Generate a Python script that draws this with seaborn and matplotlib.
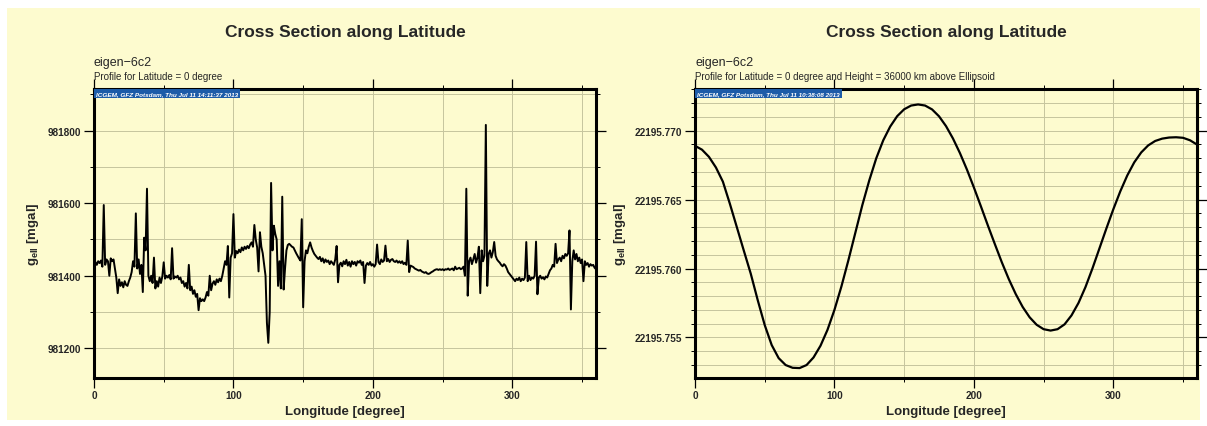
import numpy as np
import pandas as pd
import matplotlib
matplotlib.use("Agg")
import matplotlib.pyplot as plt
from matplotlib.patches import Rectangle
from matplotlib.ticker import MultipleLocator, FormatStrFormatter
import seaborn as sns

# ---------------- data ----------------
lon_left = np.arange(0, 361, 1)
g_left = [
    981432, 981438, 981430, 981440, 981435, 981442, 981425, 981595, 981430, 981445,
    981440, 981400, 981448, 981440, 981445, 981420, 981395, 981352, 981390, 981372,
    981382, 981368, 981385, 981375, 981372, 981385, 981395, 981410, 981440, 981425,
    981572, 981420, 981445, 981405, 981430, 981355, 981505, 981470, 981640, 981400,
    981385, 981400, 981380, 981450, 981365, 981385, 981370, 981395, 981380, 981398,
    981437, 981392, 981400, 981395, 981402, 981390, 981476, 981392, 981398, 981395,
    981400, 981390, 981395, 981380, 981385, 981370, 981380, 981365, 981430, 981360,
    981370, 981350, 981360, 981342, 981350, 981305, 981338, 981330, 981335, 981330,
    981340, 981355, 981345, 981400, 981360, 981378, 981385, 981375, 981390, 981382,
    981392, 981385, 981400, 981420, 981440, 981430, 981482, 981340, 981450, 981462,
    981570, 981450, 981468, 981462, 981472, 981465, 981478, 981470, 981480, 981474,
    981482, 981476, 981486, 981492, 981480, 981540, 981500, 981478, 981412, 981520,
    981480, 981462, 981430, 981400, 981270, 981215, 981300, 981656, 981470, 981538,
    981515, 981500, 981372, 981440, 981365, 981618, 981362, 981420, 981470, 981485,
    981488, 981484, 981480, 981478, 981470, 981462, 981455, 981448, 981442, 981556,
    981313, 981440, 981470, 981462, 981480, 981492, 981478, 981468, 981460, 981455,
    981450, 981446, 981452, 981440, 981448, 981436, 981445, 981438, 981442, 981432,
    981440, 981435, 981430, 981445, 981482, 981382, 981430, 981436, 981426, 981440,
    981432, 981444, 981428, 981438, 981425, 981440, 981432, 981438, 981428, 981440,
    981436, 981442, 981430, 981438, 981380, 981428, 981435, 981430, 981438, 981428,
    981432, 981425, 981432, 981486, 981438, 981432, 981445, 981438, 981442, 981483,
    981440, 981446, 981438, 981444, 981446, 981440, 981438, 981442, 981436, 981440,
    981435, 981440, 981432, 981436, 981430, 981497, 981410, 981428, 981426, 981424,
    981420, 981418, 981416, 981414, 981416, 981412, 981410, 981408, 981410, 981406,
    981405, 981407, 981410, 981412, 981415, 981417, 981418, 981416, 981418, 981416,
    981418, 981415, 981418, 981417, 981420, 981416, 981418, 981420, 981415, 981425,
    981418, 981420, 981422, 981418, 981420, 981425, 981400, 981640, 981345, 981440,
    981450, 981432, 981445, 981460, 981436, 981450, 981480, 981352, 981470, 981440,
    981455, 981816, 981372, 981460, 981470, 981450, 981465, 981493, 981455, 981445,
    981440, 981436, 981430, 981426, 981432, 981428, 981420, 981410, 981405, 981400,
    981395, 981390, 981385, 981392, 981388, 981395, 981385, 981392, 981388, 981395,
    981493, 981385, 981400, 981388, 981395, 981392, 981400, 981494, 981349, 981395,
    981400, 981392, 981396, 981390, 981398, 981395, 981405, 981415, 981420, 981430,
    981425, 981488, 981435, 981445, 981450, 981440, 981455, 981448, 981460, 981455,
    981462, 981525, 981307, 981440, 981470, 981445, 981460, 981440, 981450, 981435,
    981445, 981385, 981440, 981430, 981435, 981425, 981432, 981428, 981430, 981422,
    981418,
]

lon_right = np.arange(0, 361, 5)
g_right = [
    22195.76890, 22195.76862, 22195.76810, 22195.76733, 22195.76630, 22195.76470,
    22195.76300, 22195.76130, 22195.75962, 22195.75770, 22195.75590, 22195.75445,
    22195.75350, 22195.75300, 22195.75280, 22195.75278, 22195.75300, 22195.75355,
    22195.75440, 22195.75555, 22195.75700, 22195.75870, 22195.76060, 22195.76260,
    22195.76460, 22195.76640, 22195.76800, 22195.76930, 22195.77030, 22195.77105,
    22195.77155, 22195.77182, 22195.77190, 22195.77182, 22195.77154, 22195.77104,
    22195.77033, 22195.76943, 22195.76837, 22195.76718, 22195.76588, 22195.76452,
    22195.76313, 22195.76178, 22195.76046, 22195.75924, 22195.75815, 22195.75721,
    22195.75646, 22195.75592, 22195.75560, 22195.75550, 22195.75560, 22195.75595,
    22195.75660, 22195.75750, 22195.75865, 22195.76000, 22195.76145, 22195.76290,
    22195.76430, 22195.76560, 22195.76675, 22195.76770, 22195.76842, 22195.76893,
    22195.76925, 22195.76942, 22195.76950, 22195.76952, 22195.76948, 22195.76930,
    22195.76899,
]

titles = ["Cross Section along Latitude", "Cross Section along Latitude"]
models = ["eigen\u22126c2", "eigen\u22126c2"]
subtitles = ["Profile for Latitude = 0 degree",
             "Profile for Latitude = 0 degree and Height = 36000 km above Ellipsoid"]
stamps = ["ICGEM, GFZ Potsdam, Thu Jul 11 14:11:37 2013",
          "ICGEM, GFZ Potsdam, Thu Jul 11 10:38:08 2013"]
xlabel = "Longitude [degree]"
ylabel = r"g$_{\mathbf{ell}}$ [mgal]"

# ---------------- style ----------------
sns.set_theme(style="white")
plt.rcParams["font.family"] = ["Liberation Sans", "DejaVu Sans"]
plt.rcParams["mathtext.fontset"] = "custom"
plt.rcParams["mathtext.rm"] = "Liberation Sans:bold"
plt.rcParams["mathtext.bf"] = "Liberation Sans:bold"

YELLOW = "#fdfbcf"
GRID = "#c6c59e"
BLUE = "#1d5ca8"

W, H = 1207, 427
fig = plt.figure(figsize=(W / 100, H / 100), dpi=100)
fig.patch.set_facecolor("white")
fig.add_artist(Rectangle((7 / W, 1 - 421 / H), (1200 - 7) / W, (421 - 9) / H,
                         transform=fig.transFigure, facecolor=YELLOW,
                         edgecolor="none", zorder=-10))

def px_axes(x0, y0, x1, y1):
    return fig.add_axes([x0 / W, 1 - y1 / H, (x1 - x0) / W, (y1 - y0) / H])

axL = px_axes(94, 90, 596, 379)
axR = px_axes(695, 90, 1197, 379)

df_left = pd.DataFrame({"lon": lon_left, "g": g_left})
df_right = pd.DataFrame({"lon": lon_right, "g": g_right})

sns.lineplot(data=df_left, x="lon", y="g", ax=axL, color="black",
             linewidth=1.4, estimator=None, sort=False, zorder=3)
sns.lineplot(data=df_right, x="lon", y="g", ax=axR, color="black",
             linewidth=1.6, estimator=None, sort=False, zorder=3)

axL.set_ylim(981118, 981915)
axR.set_ylim(22195.75206, 22195.77302)

for ax, ymaj, ymin, fmt in [(axL, 200, 100, "%d"), (axR, 0.005, 0.001, "%.3f")]:
    ax.set_facecolor(YELLOW)
    ax.set_xlim(0, 360)
    ax.xaxis.set_major_locator(MultipleLocator(100))
    ax.xaxis.set_minor_locator(MultipleLocator(50))
    ax.yaxis.set_major_locator(MultipleLocator(ymaj))
    ax.yaxis.set_minor_locator(MultipleLocator(ymin))
    ax.yaxis.set_major_formatter(FormatStrFormatter(fmt))
    ax.grid(which="both", color=GRID, linewidth=0.7, zorder=0)
    ax.set_axisbelow(True)
    for s in ax.spines.values():
        s.set_color("black")
        s.set_linewidth(2.2)
    ax.tick_params(which="major", direction="out", length=7, width=0.9,
                   color="black", top=True, right=True, bottom=True, left=True,
                   labelsize=7.2, pad=2)
    ax.tick_params(which="minor", direction="out", length=3, width=0.7,
                   color="black", top=True, right=True, bottom=True, left=True)
    for lab in ax.get_xticklabels() + ax.get_yticklabels():
        lab.set_fontweight("bold")
    ax.set_xlabel(xlabel, fontsize=9.5, fontweight="bold", labelpad=3)
    ax.set_ylabel(ylabel, fontsize=9.5, fontweight="bold", labelpad=5)

for i, (ax, x0, x1) in enumerate([(axL, 94, 596), (axR, 695, 1197)]):
    fig.text((x0 + x1) / 2 / W, 1 - 33 / H, titles[i], ha="center", va="center",
             fontsize=12.5, fontweight="bold")
    fig.text(x0 / W, 1 - 63 / H, models[i], ha="left", va="center", fontsize=9)
    fig.text(x0 / W, 1 - 77 / H, subtitles[i], ha="left", va="center", fontsize=7)
    ax.text(0.004, 0.993, stamps[i], transform=ax.transAxes, ha="left", va="top",
            fontsize=4.6, color="white", fontstyle="italic", fontweight="bold",
            zorder=6,
            bbox=dict(boxstyle="square,pad=0.35", facecolor=BLUE, edgecolor="none"))

fig.savefig("out.png", dpi=100, facecolor=fig.get_facecolor())
